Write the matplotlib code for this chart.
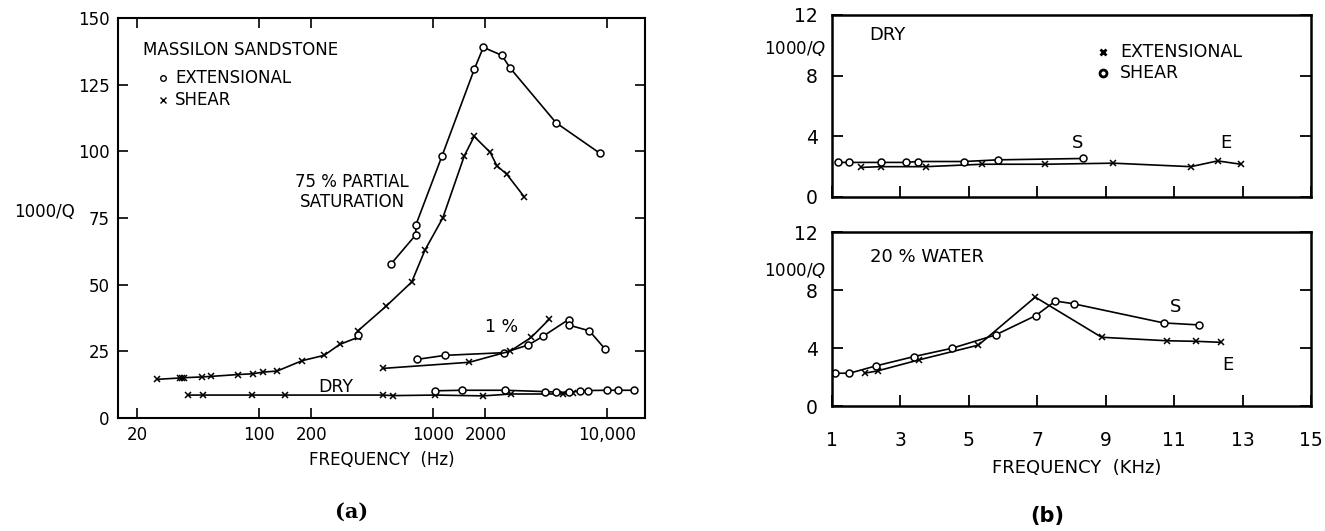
import matplotlib
matplotlib.use("Agg")
import matplotlib.pyplot as plt

# ---- panel (a): Massilon sandstone, log frequency (Hz) ----
ext75_f = [571, 796, 798, 1128, 1726, 1944, 2484, 2775, 5090, 9120]
ext75_q = [57.6, 68.7, 72.5, 98.4, 130.8, 139, 136, 131.2, 110.7, 99.2]

shr75_f = [26, 35, 36, 37, 47, 53, 76, 93, 105, 127, 177, 237, 291, 369, 369,
           537, 754, 899, 1137, 1514, 1722, 2130, 2325, 2652, 3335]
shr75_q = [14.5, 15, 15, 15.1, 15.4, 15.6, 16.3, 16.6, 17.2, 17.6, 21.5, 23.5, 27.6, 30.2, 32.6,
           41.9, 51.0, 63.0, 75.0, 98.4, 105.6, 99.6, 94.6, 91.4, 83.0]
ext75_mid_f = [369]
ext75_mid_q = [31]

ext1_f = [813, 1172, 2560, 3530, 4270, 6000, 6060, 7900, 9750]
ext1_q = [22.0, 23.5, 24.5, 27.4, 30.6, 36.9, 34.8, 32.7, 25.8]
shr1_f = [516, 1618, 2775, 3660, 4660]
shr1_q = [18.6, 20.9, 25.1, 30.2, 37.1]

dry_shr_f = [39, 48, 91, 142, 514, 591, 1026, 1945, 2800, 5600, 6400]
dry_shr_q = [8.6, 8.6, 8.6, 8.6, 8.6, 8.4, 8.6, 8.3, 9.0, 9.0, 9.2]
dry_ext_f = [1026, 1460, 2590, 4400, 5100, 6000, 7000, 7800, 9950, 11500, 14200]
dry_ext_q = [10.2, 10.4, 10.4, 9.9, 9.7, 9.6, 10.1, 10.3, 10.4, 10.4, 10.4]

a_xticks = [20, 100, 200, 1000, 2000, 10000]
a_xlabels = ["20", "100", "200", "1000", "2000", "10,000"]
a_yticks = [0, 25, 50, 75, 100, 125, 150]

# ---- panel (b): linear frequency (kHz) ----
dry_e_k = [1.85, 2.43, 3.74, 5.39, 7.23, 9.22, 11.49, 12.27, 12.95]
dry_e_q = [1.95, 2.0, 2.0, 2.16, 2.16, 2.23, 2.0, 2.38, 2.16]
dry_s_k = [1.17, 1.51, 2.43, 3.16, 3.50, 4.86, 5.85, 8.35]
dry_s_q = [2.28, 2.28, 2.28, 2.28, 2.34, 2.34, 2.45, 2.54]

wet_e_k = [1.95, 2.33, 3.54, 5.28, 6.94, 8.88, 10.79, 11.65, 12.37]
wet_e_q = [2.26, 2.42, 3.18, 4.20, 7.51, 4.74, 4.50, 4.46, 4.39]
wet_s_k = [1.10, 1.51, 2.29, 3.40, 4.52, 5.78, 6.96, 7.53, 8.06, 10.69, 11.74]
wet_s_q = [2.26, 2.26, 2.77, 3.41, 3.99, 4.90, 6.24, 7.24, 7.05, 5.73, 5.59]

b_xticks = [1, 3, 5, 7, 9, 11, 13, 15]
b_yticks = [0, 4, 8, 12]

W, H = 1325, 531
fig = plt.figure(figsize=(W / 100, H / 100), dpi=100)

def box(l, t, r, b):
    return [l / W, 1 - b / H, (r - l) / W, (b - t) / H]

def ftext(x, y, s, **kw):
    # place text by pixel position (from top-left)
    fig.text(x / W, 1 - y / H, s, **kw)

lw = 1.2
mk = dict(color="black", lw=lw, markersize=5, markerfacecolor="white",
          markeredgewidth=1.1)

# ---------------- (a) ----------------
ax = fig.add_axes(box(118, 18, 645, 418))
ax.set_xscale("log")
ax.plot(ext75_f, ext75_q, marker="o", **mk)
ax.plot(shr75_f, shr75_q, marker="x", **mk)
ax.plot(ext75_mid_f, ext75_mid_q, marker="o", ls="none", **mk)
ax.plot(ext1_f, ext1_q, marker="o", **mk)
ax.plot(shr1_f, shr1_q, marker="x", **mk)
ax.plot(dry_shr_f, dry_shr_q, marker="x", **mk)
ax.plot(dry_ext_f, dry_ext_q, marker="o", **mk)
ax.set_xlim(15.5, 16500)
ax.set_ylim(0, 150)
ax.set_xticks(a_xticks)
ax.set_xticklabels(a_xlabels)
ax.minorticks_off()
ax.set_yticks(a_yticks)
ax.tick_params(direction="in", length=7, width=1.2, top=True, right=True,
               labelsize=12, pad=6)
for s in ax.spines.values():
    s.set_linewidth(1.5)

ftext(143, 50, "MASSILON SANDSTONE", fontsize=12, va="center")
ax.plot([163 / W], [1 - 78 / H], marker="o", transform=fig.transFigure,
        color="black", markersize=4, markerfacecolor="white")
ax.plot([163 / W], [1 - 100 / H], marker="x", transform=fig.transFigure,
        color="black", markersize=4)
ftext(175, 78, "EXTENSIONAL", fontsize=12, va="center")
ftext(175, 100, "SHEAR", fontsize=12, va="center")
ftext(352, 192, "75 % PARTIAL\nSATURATION", fontsize=12, ha="center",
      va="center", linespacing=1.1)
ftext(502, 327, "1 %", fontsize=12.5, ha="center", va="center")
ftext(336, 387, "DRY", fontsize=12.5, ha="center", va="center")
ftext(45, 212, "1000/Q", fontsize=12, ha="center", va="center")
ftext(382, 460, "FREQUENCY  (Hz)", fontsize=12, ha="center", va="center")
ftext(352, 512, "(a)", fontsize=15, ha="center", va="center",
      fontweight="bold", family="DejaVu Serif")

# ---------------- (b) ----------------
def setup_b(axb, labels):
    axb.set_xlim(1, 15)
    axb.set_ylim(0, 12)
    axb.set_xticks(b_xticks)
    axb.set_yticks(b_yticks)
    axb.tick_params(direction="in", length=8, width=1.3, right=True,
                    labelsize=13.5, pad=10)
    axb.tick_params(axis="x", pad=18, labelbottom=labels)
    for s in axb.spines.values():
        s.set_linewidth(1.8)

axt = fig.add_axes(box(832, 15, 1311, 197))
axt.plot(dry_e_k, dry_e_q, marker="x", **mk)
axt.plot(dry_s_k, dry_s_q, marker="o", **mk)
setup_b(axt, False)
ftext(887, 35, "DRY", fontsize=13, ha="center", va="center")
ftext(1120, 52, "EXTENSIONAL", fontsize=12.5, va="center")
ftext(1120, 73, "SHEAR", fontsize=12.5, va="center")
axt.plot([1103 / W], [1 - 52 / H], marker="x", transform=fig.transFigure,
         color="black", markersize=5, markeredgewidth=2)
axt.plot([1103 / W], [1 - 73 / H], marker="o", transform=fig.transFigure,
         color="black", markersize=5, markerfacecolor="white", markeredgewidth=2)
ftext(1078, 143, "S", fontsize=13, ha="center", va="center")
ftext(1226, 143, "E", fontsize=13, ha="center", va="center")
ftext(795, 48, "1000/$Q$", fontsize=12, ha="center", va="center")

axw = fig.add_axes(box(832, 232, 1311, 406))
axw.plot(wet_e_k, wet_e_q, marker="x", **mk)
axw.plot(wet_s_k, wet_s_q, marker="o", **mk)
setup_b(axw, True)
ftext(870, 257, "20 % WATER", fontsize=13, va="center")
ftext(1176, 307, "S", fontsize=13, ha="center", va="center")
ftext(1228, 365, "E", fontsize=13, ha="center", va="center")
ftext(795, 271, "1000/$Q$", fontsize=12, ha="center", va="center")
ftext(1077, 468, "FREQUENCY  (KHz)", fontsize=13, ha="center", va="center")
ftext(1047, 516, "(b)", fontsize=15, ha="center", va="center",
      fontweight="bold")

fig.savefig("out.png", dpi=100)
